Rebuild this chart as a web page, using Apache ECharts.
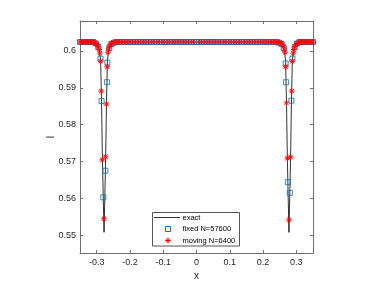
<!DOCTYPE html>
<html><head><meta charset="utf-8">
<script src="https://cdn.jsdelivr.net/npm/echarts@6/dist/echarts.min.js"></script>
<style>html,body{margin:0;padding:0;background:#fff}#c{width:380px;height:285px}</style>
</head><body><div id="c"></div>
<script>
// ---- data ----
const xTicks = [-0.3, -0.2, -0.1, 0, 0.1, 0.2, 0.3];
const xTickLabels = ['-0.3', '-0.2', '-0.1', '0', '0.1', '0.2', '0.3'];
const yTicks = [0.55, 0.56, 0.57, 0.58, 0.59, 0.6];
const yTickLabels = ['0.55', '0.56', '0.57', '0.58', '0.59', '0.6'];
const seriesNames = ['exact', 'fixed N=57600', 'moving N=6400'];

const exactPoints = [
  [-0.35,0.6024],[-0.3169,0.6024],[-0.3049,0.6021],[-0.2973,0.6015],[-0.2934,0.6006],[-0.2904,0.5992],
  [-0.2880,0.5975],[-0.2853,0.5864],[-0.2826,0.5705],[-0.2778,0.5508],[-0.2730,0.5705],[-0.2703,0.5864],
  [-0.2676,0.5975],[-0.2652,0.5992],[-0.2622,0.6006],[-0.2583,0.6015],[-0.2507,0.6021],[-0.2387,0.6024],
  [0.2387,0.6024],[0.2507,0.6021],[0.2583,0.6015],[0.2622,0.6006],[0.2652,0.5992],[0.2676,0.5975],
  [0.2703,0.5864],[0.2730,0.5705],[0.2778,0.5508],[0.2826,0.5705],[0.2853,0.5864],[0.2880,0.5975],
  [0.2904,0.5992],[0.2934,0.6006],[0.2973,0.6015],[0.3049,0.6021],[0.3169,0.6024],[0.35,0.6024]
];

const fixedPoints = [
  [-0.350,0.6024],[-0.342,0.6024],[-0.334,0.6024],[-0.326,0.6024],[-0.318,0.6024],[-0.310,0.6024],
  [-0.302,0.6020],[-0.295,0.6010],
  [-0.2883,0.5979],[-0.2853,0.5864],[-0.2800,0.5603],[-0.2738,0.5675],[-0.2692,0.5915],[-0.2678,0.5968],
  [-0.262,0.6007],[-0.255,0.6019],
  [-0.248,0.6022],[-0.240,0.6024],[-0.232,0.6024],[-0.224,0.6024],[-0.216,0.6024],[-0.208,0.6024],
  [-0.200,0.6024],[-0.192,0.6024],[-0.184,0.6024],[-0.176,0.6024],[-0.168,0.6024],[-0.160,0.6024],
  [-0.152,0.6024],[-0.144,0.6024],[-0.136,0.6024],[-0.128,0.6024],[-0.120,0.6024],[-0.112,0.6024],
  [-0.104,0.6024],[-0.096,0.6024],[-0.088,0.6024],[-0.080,0.6024],[-0.072,0.6024],[-0.064,0.6024],
  [-0.056,0.6024],[-0.048,0.6024],[-0.040,0.6024],[-0.032,0.6024],[-0.024,0.6024],[-0.016,0.6024],
  [-0.008,0.6024],[0.000,0.6024],[0.008,0.6024],[0.016,0.6024],[0.024,0.6024],[0.032,0.6024],
  [0.040,0.6024],[0.048,0.6024],[0.056,0.6024],[0.064,0.6024],[0.072,0.6024],[0.080,0.6024],
  [0.088,0.6024],[0.096,0.6024],[0.104,0.6024],[0.112,0.6024],[0.120,0.6024],[0.128,0.6024],
  [0.136,0.6024],[0.144,0.6024],[0.152,0.6024],[0.160,0.6024],[0.168,0.6024],[0.176,0.6024],
  [0.184,0.6024],[0.192,0.6024],[0.200,0.6024],[0.208,0.6024],[0.216,0.6024],[0.224,0.6024],
  [0.232,0.6024],[0.240,0.6024],[0.248,0.6022],
  [0.255,0.6019],[0.262,0.6007],
  [0.2678,0.5966],[0.2692,0.5915],[0.2745,0.5644],[0.2804,0.5615],[0.2853,0.5865],[0.2882,0.5979],
  [0.295,0.6010],[0.302,0.6020],
  [0.310,0.6024],[0.318,0.6024],[0.326,0.6024],[0.334,0.6024],[0.342,0.6024],[0.350,0.6024]
];

const movingPoints = [
  [-0.350,0.6024],[-0.344,0.6024],[-0.338,0.6024],[-0.332,0.6024],[-0.326,0.6024],[-0.320,0.6024],
  [-0.315,0.6024],[-0.310,0.6024],[-0.306,0.6022],[-0.302,0.6020],[-0.2985,0.6017],[-0.2955,0.6012],
  [-0.2928,0.6004],[-0.2905,0.5994],[-0.2880,0.5972],[-0.2862,0.5891],[-0.2829,0.5705],[-0.2781,0.5545],
  [-0.2733,0.5713],[-0.2703,0.5856],[-0.2682,0.5957],[-0.2660,0.5996],[-0.2638,0.6005],[-0.2612,0.6013],
  [-0.2582,0.6018],[-0.2545,0.6021],[-0.2500,0.6023],[-0.2440,0.6024],[-0.2370,0.6024],[-0.2290,0.6024],
  [-0.2200,0.6024],[-0.2100,0.6024],[-0.1990,0.6024],[-0.1870,0.6024],[-0.1740,0.6024],[-0.1600,0.6024],
  [-0.1450,0.6024],[-0.1300,0.6024],[-0.1150,0.6024],[-0.1000,0.6024],[-0.0850,0.6024],[-0.0700,0.6024],
  [-0.0550,0.6024],[-0.0400,0.6024],[-0.0250,0.6024],[-0.0100,0.6024],
  [0.0100,0.6024],[0.0250,0.6024],[0.0400,0.6024],[0.0550,0.6024],[0.0700,0.6024],[0.0850,0.6024],
  [0.1000,0.6024],[0.1150,0.6024],[0.1300,0.6024],[0.1450,0.6024],[0.1600,0.6024],[0.1740,0.6024],
  [0.1870,0.6024],[0.1990,0.6024],[0.2100,0.6024],[0.2200,0.6024],[0.2290,0.6024],[0.2370,0.6024],
  [0.2440,0.6024],[0.2500,0.6023],[0.2545,0.6021],[0.2582,0.6018],[0.2612,0.6013],[0.2638,0.6005],
  [0.2660,0.5996],[0.2682,0.5957],[0.2703,0.5859],[0.2733,0.5709],[0.2781,0.5542],[0.2829,0.5712],
  [0.2862,0.5891],[0.2880,0.5972],[0.2905,0.5994],[0.2928,0.6004],[0.2955,0.6012],[0.2985,0.6017],
  [0.302,0.6020],[0.306,0.6022],[0.310,0.6024],[0.315,0.6024],[0.320,0.6024],[0.326,0.6024],
  [0.332,0.6024],[0.338,0.6024],[0.344,0.6024],[0.350,0.6024]
];

// ---- styling ----
const FONT = '"Liberation Sans", Arial, Helvetica, sans-serif';
const AXIS = '#707070';
const BLUE = '#0072BD';
const RED = '#FF0000';
const starD = 'M4.2,0h1.6v10h-1.6z M0,4.2h10v1.6h-10z M0.93,2.07L2.07,0.93L9.07,7.93L7.93,9.07z M7.93,0.93L9.07,2.07L2.07,9.07L0.93,7.93z';

const X_MIN = -0.35, X_MAX = 0.35, Y_MIN = 0.5452, Y_MAX = 0.6081;

function xAxisCfg(pos, showLabel) {
  return {
    type: 'value', position: pos, min: X_MIN, max: X_MAX,
    axisLine: { show: true, onZero: false, lineStyle: { color: AXIS, width: 1 } },
    axisTick: { show: true, inside: true, length: 3, customValues: xTicks, lineStyle: { color: AXIS } },
    axisLabel: { show: showLabel, customValues: xTicks, margin: 5, fontSize: 9, fontFamily: FONT, color: '#262626',
      formatter: v => { const i = xTicks.findIndex(t => Math.abs(t - v) < 1e-9); return i >= 0 ? xTickLabels[i] : ''; } },
    splitLine: { show: false },
    name: showLabel ? 'x' : '', nameLocation: 'middle', nameGap: 18, nameMoveOverlap: false,
    nameTextStyle: { fontSize: 10, fontFamily: FONT, color: '#262626' }
  };
}
function yAxisCfg(pos, showLabel) {
  return {
    type: 'value', position: pos, min: Y_MIN, max: Y_MAX,
    axisLine: { show: true, onZero: false, lineStyle: { color: AXIS, width: 1 } },
    axisTick: { show: true, inside: true, length: 3, customValues: yTicks, lineStyle: { color: AXIS } },
    axisLabel: { show: showLabel, customValues: yTicks, margin: 4, fontSize: 9, fontFamily: FONT, color: '#262626',
      formatter: v => { const i = yTicks.findIndex(t => Math.abs(t - v) < 1e-9); return i >= 0 ? yTickLabels[i] : ''; } },
    splitLine: { show: false },
    name: showLabel ? 'I' : '', nameLocation: 'middle', nameGap: 24, nameRotate: 90, nameMoveOverlap: false,
    nameTextStyle: { fontSize: 10, fontFamily: FONT, color: '#262626' }
  };
}

// legend star built from four short strokes centred at (cx, cy)
function legendStar(cx, cy, r) {
  const d = r * 0.72;
  return [[0, -r, 0, r], [-r, 0, r, 0], [-d, -d, d, d], [-d, d, d, -d]].map(s => ({
    type: 'line', z: 101,
    shape: { x1: cx + s[0], y1: cy + s[1], x2: cx + s[2], y2: cy + s[3] },
    style: { stroke: RED, lineWidth: 1 }
  }));
}

const chart = echarts.init(document.getElementById('c'), null, { renderer: 'canvas' });
chart.setOption({
  animation: false,
  backgroundColor: '#fff',
  grid: { left: 80, top: 21, width: 233, height: 232, outerBoundsMode: 'none', containLabel: false },
  xAxis: [xAxisCfg('bottom', true), xAxisCfg('top', false)],
  yAxis: [yAxisCfg('left', true), yAxisCfg('right', false)],
  series: [
    { name: seriesNames[0], type: 'line', data: exactPoints, showSymbol: false, symbol: 'none',
      lineStyle: { color: '#000', width: 0.8 }, z: 2 },
    { name: seriesNames[1], type: 'scatter', data: fixedPoints, symbol: 'rect', symbolSize: 5,
      itemStyle: { color: 'rgba(0,0,0,0)', borderColor: BLUE, borderWidth: 1 }, z: 3 },
    { name: seriesNames[2], type: 'scatter', data: movingPoints, symbol: 'path://' + starD, symbolSize: 6,
      itemStyle: { color: RED }, z: 4 }
  ],
  graphic: [
    { type: 'rect', z: 100, shape: { x: 152.5, y: 212.5, width: 87, height: 33.5 },
      style: { fill: '#fff', stroke: '#555', lineWidth: 1 } },
    { type: 'line', z: 101, shape: { x1: 154, y1: 217.5, x2: 180, y2: 217.5 }, style: { stroke: '#000', lineWidth: 0.8 } },
    { type: 'rect', z: 101, shape: { x: 165.5, y: 226.5, width: 5, height: 5 }, style: { fill: 'none', stroke: BLUE, lineWidth: 1 } },
    ...legendStar(168, 240.5, 2.8),
    { type: 'text', z: 101, x: 182.5, y: 217.5, style: { text: seriesNames[0], fontSize: 7.5, fontFamily: FONT, fill: '#000', verticalAlign: 'middle' } },
    { type: 'text', z: 101, x: 182.5, y: 229, style: { text: seriesNames[1], fontSize: 7.5, fontFamily: FONT, fill: '#000', verticalAlign: 'middle' } },
    { type: 'text', z: 101, x: 182.5, y: 240.5, style: { text: seriesNames[2], fontSize: 7.5, fontFamily: FONT, fill: '#000', verticalAlign: 'middle' } }
  ]
});
</script></body></html>
